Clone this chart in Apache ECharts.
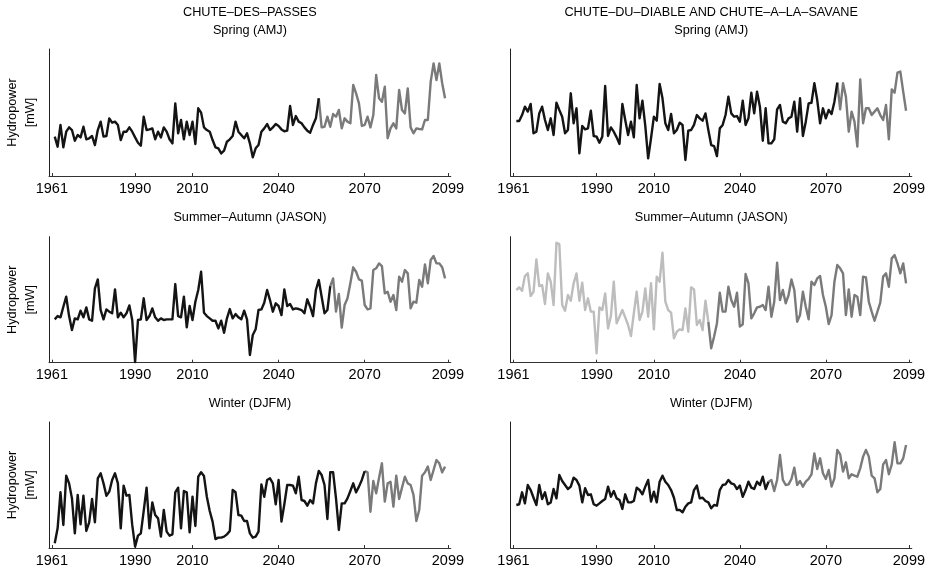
<!DOCTYPE html>
<html><head><meta charset="utf-8">
<script src="https://cdn.jsdelivr.net/npm/echarts@6/dist/echarts.min.js"></script>
<style>html,body{margin:0;padding:0;background:#fff}#c{width:933px;height:570px}</style>
</head><body><div id="c"></div>
<script>
// Years of the series (one value per year)
const FIRST_YEAR = 1962;
const tickYears = [1961, 1990, 2010, 2040, 2070, 2099];
const columnTitles = ['CHUTE\u2013DES\u2013PASSES', 'CHUTE\u2013DU\u2013DIABLE AND CHUTE\u2013A\u2013LA\u2013SAVANE'];
const seasonTitles = ['Spring (AMJ)', 'Summer\u2013Autumn (JASON)', 'Winter (DJFM)'];
const yLabel = ['Hydropower', '[mW]'];

// Relative hydropower (arbitrary units, 0..100 of axis height), 1962..2098
const cdpSpring = [
31.0,23.1,40.2,22.6,34.9,38.3,36.2,27.8,32.3,30.4,
38.8,28.9,29.7,31.5,24.4,36.2,42.8,31.0,31.5,45.4,
42.0,42.8,40.2,28.3,34.9,34.9,38.3,34.9,30.4,26.2,
23.9,46.7,36.2,36.7,37.5,28.9,34.9,30.4,38.3,34.9,
28.9,25.7,57.2,33.6,44.1,28.9,42.8,32.3,42.8,25.2,
53.3,49.9,38.3,36.2,34.9,28.3,22.6,21.8,17.8,19.9,
27.0,28.9,31.5,42.8,34.9,32.3,29.7,
33.6,25.7,14.7,21.8,24.4,34.9,37.5,40.9,36.2,38.3,
40.9,39.4,36.7,35.2,35.7,55.1,40.2,47.2,42.8,41.5,
38.3,35.7,34.1,40.2,45.4,61.2,38.3,38.8,46.7,38.8,
48.8,46.7,52.0,37.5,45.4,42.8,41.5,71.7,65.1,57.2,
39.4,40.2,46.7,38.3,48.0,79.5,61.2,58.5,70.3,29.7,
37.5,41.5,37.5,67.7,52.0,49.3,69.0,38.3,33.6,37.5,
37.0,36.7,44.1,44.1,74.3,88.7,75.6,88.7,73.0,61.2];
const cddSpring = [
43.3,43.3,48.0,54.6,50.7,56.7,33.6,34.9,49.3,54.6,
44.1,36.2,45.4,32.3,57.7,52.0,46.7,33.6,36.2,65.1,
41.5,53.3,17.8,39.4,36.7,37.5,51.4,31.5,31.0,26.2,
31.0,70.9,31.5,38.3,34.9,30.4,25.2,56.7,44.1,32.3,
42.8,30.4,71.7,45.4,59.3,39.4,13.9,29.7,46.7,43.6,
72.4,61.2,41.5,36.2,48.8,33.6,36.2,42.0,40.2,12.6,
35.7,36.2,40.2,48.0,45.4,43.6,49.3,36.2,24.4,23.6,
15.7,37.5,40.2,48.0,62.5,49.3,46.7,47.2,42.8,59.3,
40.2,45.4,65.6,49.3,66.4,54.6,27.8,53.3,25.7,25.7,
28.9,52.5,55.9,42.8,41.5,45.4,46.7,58.5,34.9,61.2,
31.5,42.8,57.2,57.7,73.0,59.8,41.5,53.3,45.4,52.0,
48.8,58.5,73.5,52.5,73.0,62.5,34.9,50.7,42.8,23.1,
76.1,41.5,53.3,53.3,48.0,50.7,53.3,48.0,44.1,55.9,
28.9,68.2,65.6,81.4,82.2,66.4,51.4];
const cdpSummer = [
34.4,37.0,36.0,44.4,52.4,37.0,25.9,35.2,34.4,41.3,
36.0,43.9,34.4,33.3,59.0,66.1,41.8,34.4,42.3,40.5,
39.2,58.2,36.0,39.7,36.0,39.2,45.5,33.9,0.5,33.9,
34.4,51.1,33.9,37.0,43.1,36.0,33.3,35.2,33.9,34.4,
34.4,34.4,62.4,37.0,36.0,52.4,28.0,45.0,33.9,48.4,
57.7,72.2,39.7,37.0,35.2,33.3,33.3,27.2,33.3,23.8,
35.2,42.6,35.2,38.6,36.0,34.4,41.3,34.4,6.1,22.0,
26.5,41.8,42.3,47.6,57.7,49.7,40.5,47.1,45.0,37.8,
58.2,45.0,46.6,42.3,43.1,42.6,41.8,39.2,50.3,44.4,
37.0,57.7,65.6,52.4,39.2,41.8,60.8,66.9,40.5,54.5,
27.8,45.8,51.1,63.0,75.7,72.2,66.1,65.1,45.8,42.3,
43.1,73.5,74.9,78.8,76.7,55.0,56.3,48.4,53.7,41.8,
68.3,64.3,73.5,70.9,43.1,48.4,47.6,65.6,60.3,78.0,
63.0,81.5,84.7,78.8,78.8,75.7,66.9];
const cddSummer = [
57.7,59.8,57.1,68.8,70.9,52.9,56.3,82.0,60.8,61.6,
46.6,70.9,64.3,45.8,95.2,94.2,45.8,41.3,53.7,49.2,
63.0,70.9,49.2,63.5,41.8,51.1,40.5,40.5,7.4,43.9,
41.8,55.0,27.2,37.0,64.3,31.2,36.5,41.8,36.0,29.9,
21.2,39.2,56.3,33.9,40.5,59.0,36.5,63.0,26.5,68.3,
64.3,87.3,48.4,41.8,39.7,19.3,24.6,26.5,25.9,43.1,
24.6,59.8,58.2,29.9,33.9,25.9,49.2,32.5,11.4,20.6,
31.2,55.6,40.5,40.5,60.3,49.7,44.4,55.6,28.6,30.4,
70.4,63.0,35.2,39.2,43.9,44.4,45.8,41.8,60.3,36.5,
48.4,79.4,49.7,57.7,47.1,53.7,66.1,57.7,32.5,37.8,
56.3,44.4,34.4,64.3,61.6,66.9,68.8,53.7,44.4,30.7,
37.8,64.3,77.5,74.9,70.9,37.8,58.2,36.5,53.7,52.4,
37.8,68.3,67.7,48.4,40.5,33.3,40.5,47.6,68.3,70.9,
60.3,82.8,85.4,78.8,70.9,78.8,63.0];
const cdpWinter = [
3.7,15.6,44.2,18.3,57.4,51.3,39.4,11.6,42.1,18.8,
41.5,13.5,20.4,38.9,20.4,55.3,59.3,51.3,41.5,44.7,
54.0,59.3,51.3,15.6,49.5,41.5,42.1,18.3,1.1,9.8,
11.6,29.4,47.9,15.6,36.2,26.2,23.5,9.0,30.2,13.0,
9.8,10.8,44.2,47.9,15.6,45.2,44.2,12.4,40.7,17.5,
56.6,60.1,57.1,40.7,29.4,20.9,7.1,8.2,8.2,9.0,
10.8,13.5,46.0,44.2,26.2,25.7,21.4,21.4,11.6,8.2,
9.0,13.0,50.5,40.7,54.0,55.3,51.3,34.7,54.0,20.9,
34.7,50.0,50.0,49.5,43.4,56.6,38.1,37.3,33.6,38.1,
35.4,51.3,61.1,57.9,50.0,23.0,60.1,60.1,39.4,14.3,
35.4,35.4,39.4,45.2,51.3,44.2,48.7,54.0,61.1,60.1,
28.8,53.2,43.4,55.8,67.2,36.8,51.3,52.6,32.8,57.4,
38.9,47.9,56.6,51.3,50.0,42.1,21.4,30.2,57.4,60.1,
64.6,54.0,61.9,69.8,67.2,60.1,64.6];
const cddWinter = [
34.1,34.7,44.2,35.4,50.0,46.0,39.9,34.1,50.0,38.9,
44.2,34.7,36.2,46.8,39.4,57.9,53.2,50.0,46.8,48.7,
55.8,54.0,49.5,36.2,47.4,42.1,42.6,34.7,33.6,35.4,
37.3,38.9,48.7,40.7,45.2,39.4,38.1,31.0,42.6,36.2,
36.2,37.3,47.9,46.0,42.6,48.7,54.0,36.8,44.7,36.2,
52.6,57.4,52.6,50.0,46.0,39.9,30.2,30.2,28.3,32.8,
35.4,36.2,46.0,49.5,39.4,39.9,37.3,36.2,31.5,34.1,
33.6,46.0,50.0,50.5,54.0,51.3,50.5,46.8,49.5,40.7,
46.0,52.6,47.9,46.8,52.6,50.0,56.6,46.8,52.6,54.0,
45.2,54.0,73.8,54.0,50.0,50.5,54.8,63.8,50.0,53.2,
48.7,52.6,54.8,58.5,75.1,62.7,71.2,59.3,54.8,61.9,
48.7,55.3,77.8,74.3,60.6,68.0,55.3,58.5,57.4,56.6,
63.2,72.5,77.8,72.5,57.4,55.3,44.2,46.8,66.4,69.8,
58.5,66.4,83.9,67.2,67.2,71.2,81.7];
// year at which the line colour changes
const splitYears = {cdpSpring: 2054, cddSpring: 2074, cdpSummer: 2058, cddSummer: 2029, cdpWinter: 2070, cddWinter: 2050};

const BLACK = '#141414', GRAY = '#7a7a7a', LIGHT = '#bdbdbd';
const panels = [
  {values: cdpSpring, split: splitYears.cdpSpring, c1: BLACK, c2: GRAY, col: 0, row: 0},
  {values: cddSpring, split: splitYears.cddSpring, c1: BLACK, c2: GRAY, col: 1, row: 0},
  {values: cdpSummer, split: splitYears.cdpSummer, c1: BLACK, c2: GRAY, col: 0, row: 1},
  {values: cddSummer, split: splitYears.cddSummer, c1: LIGHT, c2: GRAY, col: 1, row: 1},
  {values: cdpWinter, split: splitYears.cdpWinter, c1: BLACK, c2: GRAY, col: 0, row: 2},
  {values: cddWinter, split: splitYears.cddWinter, c1: BLACK, c2: GRAY, col: 1, row: 2}
];
const colLeft = [49, 510.6], colWidth = [401.8, 401.2];
const rowTop = [49, 236.7, 422], rowHeight = [127, 126, 126];
const FONT = 'Liberation Sans, Arial, sans-serif';

const grid = [], xAxis = [], yAxis = [], series = [], graphic = [];
panels.forEach((p, i) => {
  grid.push({left: colLeft[p.col], top: rowTop[p.row], width: colWidth[p.col], height: rowHeight[p.row]});
  xAxis.push({
    type: 'value', gridIndex: i, min: 1960, max: 2100,
    axisLine: {show: true, onZero: false, lineStyle: {color: '#333', width: 1}},
    axisTick: {show: true, inside: true, length: 3, customValues: tickYears, lineStyle: {color: '#333'}},
    axisLabel: {show: true, customValues: tickYears, formatter: v => String(v), color: '#000',
      fontSize: 14.5, fontFamily: FONT, margin: 5},
    splitLine: {show: false}
  });
  yAxis.push({
    type: 'value', gridIndex: i, min: 0, max: 100,
    axisLine: {show: true, lineStyle: {color: '#222', width: 1}},
    axisTick: {show: false}, axisLabel: {show: false}, splitLine: {show: false}
  });
  const a = [], b = [];
  p.values.forEach((v, k) => {
    const yr = FIRST_YEAR + k;
    if (yr <= p.split) a.push([yr, v]);
    if (yr >= p.split) b.push([yr, v]);
  });
  [[a, p.c1], [b, p.c2]].forEach(([d, c]) => series.push({
    type: 'line', xAxisIndex: i, yAxisIndex: i, data: d, showSymbol: false, symbol: 'none',
    lineStyle: {color: c, width: 2.4, join: 'round'}, silent: true, z: c === p.c1 ? 3 : 2
  }));
});

// column titles
columnTitles.forEach((t, c) => graphic.push({type: 'text', x: colLeft[c] + colWidth[c] / 2, y: 12,
  style: {text: t, fill: '#000', font: '12.7px ' + FONT, textAlign: 'center', textVerticalAlign: 'middle'}}));
// season titles
[0, 1].forEach(c => seasonTitles.forEach((t, r) => graphic.push({type: 'text', x: colLeft[c] + colWidth[c] / 2,
  y: rowTop[r] - 19, style: {text: t, fill: '#000', font: '12.7px ' + FONT, textAlign: 'center', textVerticalAlign: 'middle'}})));
// y labels (left column only)
[0, 1, 2].forEach(r => {
  const cy = rowTop[r] + rowHeight[r] / 2;
  graphic.push({type: 'text', x: 12, y: cy, rotation: Math.PI / 2,
    style: {text: yLabel[0], fill: '#000', font: '12.7px ' + FONT, textAlign: 'center', textVerticalAlign: 'middle'}});
  graphic.push({type: 'text', x: 30, y: cy, rotation: Math.PI / 2,
    style: {text: yLabel[1], fill: '#000', font: '12.7px ' + FONT, textAlign: 'center', textVerticalAlign: 'middle'}});
});

const chart = echarts.init(document.getElementById('c'), null, {renderer: 'canvas'});
chart.setOption({animation: false, backgroundColor: '#fff', grid, xAxis, yAxis, series, graphic});
</script></body></html>
